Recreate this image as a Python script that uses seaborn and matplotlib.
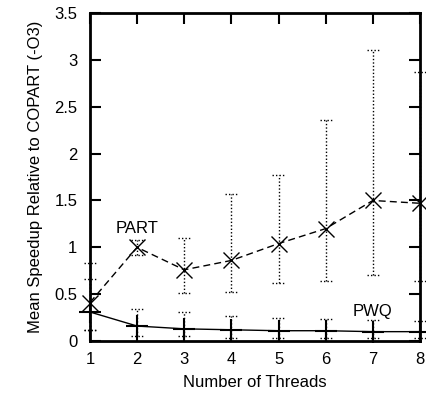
import matplotlib
matplotlib.use("Agg")
import matplotlib.pyplot as plt
import numpy as np
import pandas as pd
import seaborn as sns

# --- data ---
threads = [1, 2, 3, 4, 5, 6, 7, 8]

part_mean = [0.41, 1.00, 0.76, 0.86, 1.04, 1.20, 1.50, 1.47]
part_lo = [0.12, 0.92, 0.51, 0.52, 0.62, 0.64, 0.71, 0.64]
part_hi = [0.83, 1.08, 1.10, 1.57, 1.77, 2.36, 3.11, 2.87]

pwq_mean = [0.31, 0.16, 0.13, 0.12, 0.11, 0.11, 0.10, 0.10]
pwq_lo = [0.12, 0.05, 0.05, 0.03, 0.03, 0.03, 0.03, 0.035]
pwq_hi = [0.66, 0.34, 0.31, 0.27, 0.25, 0.23, 0.22, 0.21]

sns.set_style("ticks", {"axes.edgecolor": "black", "xtick.color": "black",
                        "ytick.color": "black", "text.color": "black",
                        "axes.labelcolor": "black"})
plt.rcParams["font.family"] = ["Liberation Sans", "DejaVu Sans"]

df = pd.concat([
    pd.DataFrame({"threads": threads, "speedup": part_mean, "lo": part_lo, "hi": part_hi, "algo": "PART"}),
    pd.DataFrame({"threads": threads, "speedup": pwq_mean, "lo": pwq_lo, "hi": pwq_hi, "algo": "PWQ"}),
], ignore_index=True)

fig = plt.figure(figsize=(4.26, 3.97), dpi=100)
ax = fig.add_axes([0.211, 0.141, 0.775, 0.826])

cap = 0.13
dots = (0, (1, 1.5))
for algo, grp in df.groupby("algo"):
    x = grp["threads"].values
    ax.vlines(x, grp["lo"], grp["hi"], colors="black", linestyles=dots,
              linewidth=1.0, clip_on=False, zorder=2)
    for col in ["lo", "hi"]:
        ax.hlines(grp[col], x - cap, x + cap, colors="black", linestyles=dots,
                  linewidth=1.0, clip_on=False, zorder=2)

sns.lineplot(data=df[df["algo"] == "PART"], x="threads", y="speedup", ax=ax,
             color="black", linewidth=1.0, marker="x", markersize=11,
             markeredgewidth=1.0, markeredgecolor="black",
             linestyle=(0, (5, 3)), clip_on=False, zorder=3)
sns.lineplot(data=df[df["algo"] == "PWQ"], x="threads", y="speedup", ax=ax,
             color="black", linewidth=1.0, marker="+", markersize=16,
             markeredgewidth=1.5, markeredgecolor="black", clip_on=False, zorder=3)

ax.text(2, 1.2, "PART", ha="center", va="center", fontsize=12)
ax.text(7, 0.32, "PWQ", ha="center", va="center", fontsize=12)

ax.set_xlim(1, 8)
ax.set_ylim(0, 3.5)
ax.set_xticks(threads)
ax.set_yticks(np.arange(0, 3.51, 0.5))
ax.set_yticklabels(["0", "0.5", "1", "1.5", "2", "2.5", "3", "3.5"])
ax.set_xlabel("Number of Threads", fontsize=12, labelpad=6)
ax.set_ylabel("Mean Speedup Relative to COPART (-O3)", fontsize=12, labelpad=8)
ax.tick_params(direction="in", length=8, width=1.5, top=True, right=True,
               labelsize=12, colors="black")
ax.tick_params(axis="y", pad=9)
ax.tick_params(axis="x", pad=8)
for s in ax.spines.values():
    s.set_linewidth(2)
    s.set_color("black")
    s.set_visible(True)

fig.savefig("out.png", dpi=100)
